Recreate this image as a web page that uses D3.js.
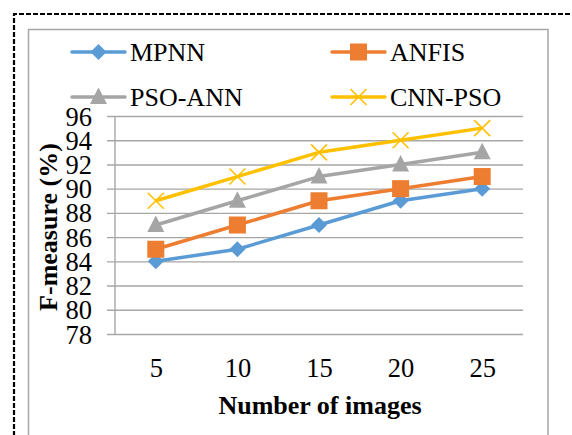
<!DOCTYPE html>
<html><head><meta charset="utf-8">
<script src="https://cdn.jsdelivr.net/npm/d3@7"></script>
<style>body{margin:0;background:#fff}svg{display:block}text{font-family:"Liberation Serif","Times New Roman",serif;fill:#000}</style>
</head><body>
<script>
const categories = [5, 10, 15, 20, 25];
const seriesNames = ["MPNN", "ANFIS", "PSO-ANN", "CNN-PSO"];
const mpnn   = [84, 85, 87, 89, 90];
const anfis  = [85, 87, 89, 90, 91];
const psoAnn = [87, 89, 91, 92, 93];
const cnnPso = [89, 91, 93, 94, 95];
const yTicks = [78, 80, 82, 84, 86, 88, 90, 92, 94, 96];
const colors = ["#5B9BD5", "#ED7D31", "#A5A5A5", "#FFC000"];
const markers = ["diamond", "square", "triangle", "cross"];
const values = [mpnn, anfis, psoAnn, cnnPso];

const W = 572, H = 435;
const svg = d3.select("body").append("svg").attr("width", W).attr("height", H);

// outer dashed frame
svg.append("path").attr("d", `M14,436 L14,14 L580,14`).attr("fill","none")
  .attr("stroke","#000").attr("stroke-width",2.2).attr("stroke-dasharray","5,2");
// chart area border
svg.append("rect").attr("x",28.5).attr("y",29.5).attr("width",519.5).attr("height",430)
  .attr("fill","none").attr("stroke","#A6A6A6").attr("stroke-width",1.5);

const x = d3.scalePoint().domain(categories).range([115, 523]).padding(0.5);
const y = d3.scaleLinear().domain([78, 96]).range([334, 116]);

// gridlines
const yAxis = d3.axisLeft(y).tickValues(yTicks).tickSize(-(523-107)).tickPadding(14);
const gy = svg.append("g").attr("transform","translate(107,0)").call(yAxis);
gy.select(".domain").remove();
gy.selectAll(".tick line").attr("stroke","#A6A6A6").attr("stroke-width",1.4);
gy.selectAll(".tick text").attr("font-size",26.5).attr("font-family","Liberation Serif").attr("fill","#000").attr("x",-15).attr("dy","0.34em");

// vertical axis line
svg.append("line").attr("x1",115).attr("x2",115).attr("y1",116).attr("y2",334)
  .attr("stroke","#A6A6A6").attr("stroke-width",1.4);

// x axis labels
const xAxis = d3.axisBottom(x).tickSize(0).tickPadding(0);
const gx = svg.append("g").attr("transform","translate(0,358)").call(xAxis);
gx.select(".domain").remove();
gx.selectAll(".tick text").attr("font-size",26.5).attr("font-family","Liberation Serif").attr("fill","#000").attr("dy","0.71em");

// titles
svg.append("text").attr("x",320).attr("y",414).attr("text-anchor","middle")
  .attr("font-size",26).attr("font-weight","bold").text("Number of images");
svg.append("text").attr("transform","translate(57,227) rotate(-90)").attr("text-anchor","middle")
  .attr("font-size",26).attr("font-weight","bold").text("F-measure (%)");

function drawMarker(g, type, color, cx, cy) {
  if (type === "diamond") {
    g.append("path").attr("d", `M${cx},${cy-8} L${cx+8},${cy} L${cx},${cy+8} L${cx-8},${cy} Z`).attr("fill", color);
  } else if (type === "square") {
    g.append("rect").attr("x",cx-8.5).attr("y",cy-8.5).attr("width",17).attr("height",17).attr("fill",color);
  } else if (type === "triangle") {
    g.append("path").attr("d", `M${cx},${cy-9.5} L${cx+8.5},${cy+7} L${cx-8.5},${cy+7} Z`).attr("fill", color);
  } else {
    g.append("path").attr("d", `M${cx-8},${cy-8} L${cx+8},${cy+8} M${cx-8},${cy+8} L${cx+8},${cy-8}`)
      .attr("stroke", color).attr("stroke-width",1.6).attr("fill","none");
  }
}

const line = d3.line().x((d,i)=>x(categories[i])).y(d=>y(d));
values.forEach((vals, s) => {
  const g = svg.append("g");
  g.append("path").datum(vals).attr("d", line).attr("fill","none")
    .attr("stroke", colors[s]).attr("stroke-width",3.5).attr("stroke-linejoin","round");
  vals.forEach((v,i) => drawMarker(g, markers[s], colors[s], x(categories[i]), y(v)));
});

// legend
const legPos = [[72,52],[332,52],[72,97],[332,97]];
seriesNames.forEach((name, s) => {
  const [lx, ly] = legPos[s];
  const g = svg.append("g");
  g.append("line").attr("x1",lx).attr("x2",lx+53).attr("y1",ly).attr("y2",ly)
    .attr("stroke",colors[s]).attr("stroke-width",3.5).attr("stroke-linecap","round");
  drawMarker(g, markers[s], colors[s], lx+26.5, ly);
  g.append("text").attr("x",lx+58).attr("y",ly).attr("dy","0.35em").attr("font-size",26).text(name);
});
</script>
</body></html>
